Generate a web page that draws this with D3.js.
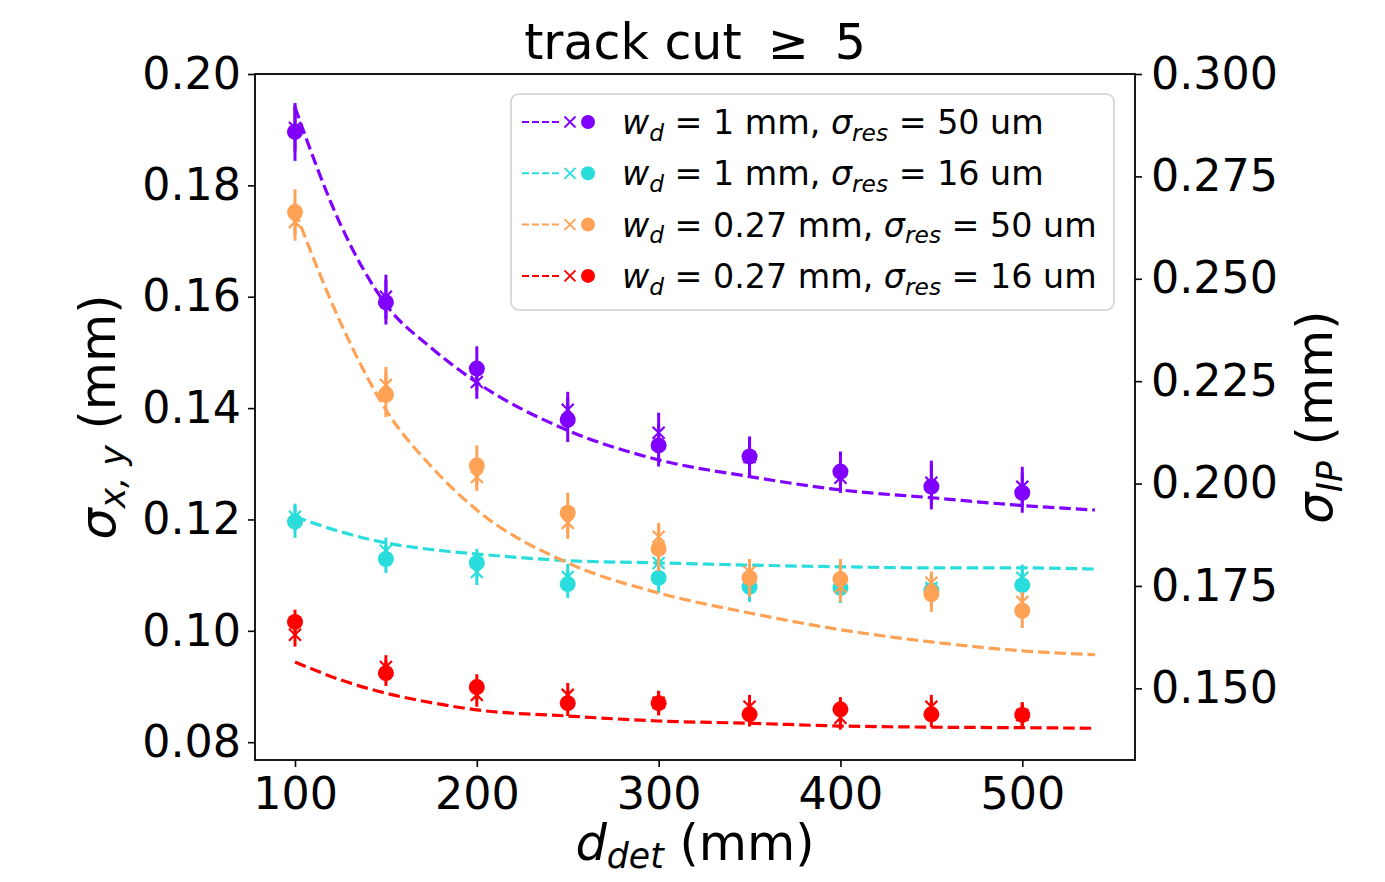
<!DOCTYPE html>
<html>
<head>
<meta charset="utf-8">
<script src="https://cdn.jsdelivr.net/npm/d3@7"></script>
<style>
  body { margin: 0; background: #fff; }
  svg text { font-family: "DejaVu Sans", sans-serif; fill: #000; }
</style>
</head>
<body>
<svg id="chart"></svg>
<script>
const dDet = [100, 150, 200, 250, 300, 350, 400, 450, 500]
const fitD = [100, 125, 150, 175, 200, 250, 300, 350, 400, 450, 500, 540]

const xTicks = [100, 200, 300, 400, 500]
const leftTicks = [0.08, 0.1, 0.12, 0.14, 0.16, 0.18, 0.2]
const rightTicks = [0.15, 0.175, 0.2, 0.225, 0.25, 0.275, 0.3]

const colors = ["#8000ff", "#2adddd", "#ffa256", "#ff0000"]
const widths = ["1", "1", "0.27", "0.27"]
const resolutions = ["50", "16", "50", "16"]

// sigma_x,y (dots, left axis)
const sxy_1mm_50um = [0.1896, 0.159, 0.1471, 0.1379, 0.1333, 0.1313, 0.1286, 0.1259, 0.1248]
const sxy_1mm_16um = [0.1196, 0.1129, 0.1122, 0.1084, 0.1095, 0.1079, 0.1077, 0.1073, 0.1082]
const sxy_027mm_50um = [0.1752, 0.1424, 0.1297, 0.1212, 0.1147, 0.1095, 0.1093, 0.1066, 0.1036]
const sxy_027mm_16um = [0.1016, 0.0924, 0.0899, 0.087, 0.087, 0.085, 0.0859, 0.085, 0.0849]

const sxyErr_1mm_50um = [0.0052, 0.004, 0.004, 0.004, 0.0038, 0.0036, 0.0036, 0.0041, 0.0036]
const sxyErr_1mm_16um = [0.0029, 0.0025, 0.0025, 0.0025, 0.0027, 0.0027, 0.0027, 0.0027, 0.0027]
const sxyErr_027mm_50um = [0.0041, 0.004, 0.0036, 0.0036, 0.004, 0.0034, 0.0036, 0.0032, 0.0031]
const sxyErr_027mm_16um = [0.0022, 0.0023, 0.0023, 0.0023, 0.0022, 0.0022, 0.0022, 0.0023, 0.0023]

// sigma_IP (crosses, right axis)
const sip_1mm_50um = [0.2868, 0.2456, 0.2248, 0.218, 0.2124, 0.2065, 0.2014, 0.2002, 0.1992]
const sip_1mm_16um = [0.1919, 0.1836, 0.1784, 0.1772, 0.1806, 0.176, 0.1753, 0.1745, 0.177]
const sip_027mm_50um = [0.2639, 0.2241, 0.2016, 0.1904, 0.187, 0.1784, 0.1748, 0.1758, 0.1711]
const sip_027mm_16um = [0.1631, 0.1552, 0.1484, 0.1484, 0.1465, 0.1455, 0.1428, 0.1455, 0.1435]

const sipErr_1mm_50um = [0.0056, 0.0054, 0.0041, 0.0044, 0.0049, 0.0049, 0.0037, 0.0054, 0.0049]
const sipErr_1mm_16um = [0.0032, 0.0032, 0.0032, 0.0032, 0.0032, 0.0032, 0.0032, 0.0032, 0.0032]
const sipErr_027mm_50um = [0.0046, 0.0044, 0.0034, 0.0039, 0.0034, 0.0032, 0.0037, 0.0027, 0.0024]
const sipErr_027mm_16um = [0.0029, 0.0029, 0.0029, 0.0029, 0.0029, 0.0029, 0.0029, 0.0029, 0.0029]

// dashed expectation curves (left axis)
const fit_1mm_50um = [0.194, 0.173, 0.1586, 0.1508, 0.1446, 0.136, 0.1307, 0.1277, 0.1253, 0.1239, 0.1225, 0.1217]
const fit_1mm_16um = [0.1205, 0.1178, 0.1158, 0.1146, 0.1138, 0.1126, 0.1122, 0.1118, 0.1115, 0.1113, 0.1113, 0.1111]
const fit_027mm_50um = [0.1754, 0.1554, 0.1397, 0.1295, 0.1217, 0.1122, 0.1068, 0.1032, 0.1002, 0.098, 0.0964, 0.0957]
const fit_027mm_16um = [0.0944, 0.0912, 0.0888, 0.0871, 0.0858, 0.0847, 0.0838, 0.0834, 0.0829, 0.0827, 0.0826, 0.0825]

const series = [
  { sxy: sxy_1mm_50um, sxyErr: sxyErr_1mm_50um, sip: sip_1mm_50um, sipErr: sipErr_1mm_50um, fit: fit_1mm_50um },
  { sxy: sxy_1mm_16um, sxyErr: sxyErr_1mm_16um, sip: sip_1mm_16um, sipErr: sipErr_1mm_16um, fit: fit_1mm_16um },
  { sxy: sxy_027mm_50um, sxyErr: sxyErr_027mm_50um, sip: sip_027mm_50um, sipErr: sipErr_027mm_50um, fit: fit_027mm_50um },
  { sxy: sxy_027mm_16um, sxyErr: sxyErr_027mm_16um, sip: sip_027mm_16um, sipErr: sipErr_027mm_16um, fit: fit_027mm_16um },
].map((s, i) => ({ ...s, color: colors[i], width: widths[i], res: resolutions[i] }))

const W = 1385
const H = 882
const plot = { left: 255, right: 1135, top: 74, bottom: 760 }
const FS = 44.4
const LABEL_FS = 49.5

const svg = d3.select("#chart").attr("width", W).attr("height", H)

const x = d3.scaleLinear().domain([78, 562]).range([plot.left, plot.right])
const yL = d3.scaleLinear().domain([0.0768, 0.2]).range([plot.bottom, plot.top])
const yR = d3.scaleLinear().domain([0.1325, 0.3]).range([plot.bottom, plot.top])

// writes a mathtext-like label: parts are [text, kind] with kind n / i / sub
const mathText = (sel, parts, size, drop = 0.2) => {
  let shifted = false
  parts.forEach(([txt, kind]) => {
    const t = sel.append("tspan").text(txt)
    if (kind === "sub") {
      t.attr("font-size", size * 0.7).attr("font-style", "italic")
      if (!shifted) t.attr("dy", size * drop)
      shifted = true
    } else {
      t.attr("font-size", size)
      if (kind === "i") t.attr("font-style", "italic")
      if (shifted) t.attr("dy", -size * drop)
      shifted = false
    }
  })
}

/*
  Data
*/
const line = d3
  .line()
  .x((d) => x(d[0]))
  .y((d) => yL(d[1]))
  .curve(d3.curveMonotoneX)

const crossPath = (r) => `M${-r},${-r}L${r},${r}M${-r},${r}L${r},${-r}`

series.forEach((s) => {
  const g = svg.append("g")

  g.append("path")
    .datum(fitD.map((d, i) => [d, s.fit[i]]))
    .attr("d", line)
    .attr("fill", "none")
    .attr("stroke", s.color)
    .attr("stroke-width", 3.2)
    .attr("stroke-dasharray", "11.5,5")

  const pts = dDet.map((d, i) => ({ d, sxy: s.sxy[i], ex: s.sxyErr[i], sip: s.sip[i], ei: s.sipErr[i] }))

  // crosses with error bars (right axis)
  g.selectAll(".ipbar")
    .data(pts)
    .enter()
    .append("line")
    .attr("x1", (p) => x(p.d))
    .attr("x2", (p) => x(p.d))
    .attr("y1", (p) => yR(p.sip - p.ei))
    .attr("y2", (p) => yR(p.sip + p.ei))
    .attr("stroke", s.color)
    .attr("stroke-width", 3)

  g.selectAll(".ipmark")
    .data(pts)
    .enter()
    .append("path")
    .attr("transform", (p) => "translate(" + x(p.d) + "," + yR(p.sip) + ")")
    .attr("d", crossPath(6))
    .attr("stroke", s.color)
    .attr("stroke-width", 2.2)
    .attr("fill", "none")

  // dots with error bars (left axis)
  g.selectAll(".xybar")
    .data(pts)
    .enter()
    .append("line")
    .attr("x1", (p) => x(p.d))
    .attr("x2", (p) => x(p.d))
    .attr("y1", (p) => yL(p.sxy - p.ex))
    .attr("y2", (p) => yL(p.sxy + p.ex))
    .attr("stroke", s.color)
    .attr("stroke-width", 3)

  g.selectAll(".xymark")
    .data(pts)
    .enter()
    .append("circle")
    .attr("cx", (p) => x(p.d))
    .attr("cy", (p) => yL(p.sxy))
    .attr("r", 8)
    .attr("fill", s.color)
})

/*
  Axes
*/
const styleAxis = (g) => {
  g.selectAll("text").attr("font-size", FS).attr("fill", "#000")
  g.selectAll("line").attr("stroke", "#000").attr("stroke-width", 1.6)
  g.select(".domain").remove()
}

svg
  .append("g")
  .attr("transform", "translate(0," + plot.bottom + ")")
  .call(d3.axisBottom(x).tickValues(xTicks).tickSize(7).tickPadding(10).tickFormat(d3.format("d")))
  .call(styleAxis)

svg
  .append("g")
  .attr("transform", "translate(" + plot.left + ",0)")
  .call(d3.axisLeft(yL).tickValues(leftTicks).tickSize(7).tickPadding(7).tickFormat(d3.format(".2f")))
  .call(styleAxis)

svg
  .append("g")
  .attr("transform", "translate(" + plot.right + ",0)")
  .call(d3.axisRight(yR).tickValues(rightTicks).tickSize(7).tickPadding(9).tickFormat(d3.format(".3f")))
  .call(styleAxis)

svg
  .append("rect")
  .attr("x", plot.left)
  .attr("y", plot.top)
  .attr("width", plot.right - plot.left)
  .attr("height", plot.bottom - plot.top)
  .attr("fill", "none")
  .attr("stroke", "#000")
  .attr("stroke-width", 1.8)

/*
  Labels
*/
const title = svg.append("text").attr("x", (plot.left + plot.right) / 2).attr("y", 59).attr("text-anchor", "middle")
title.append("tspan").attr("font-size", 49).text("track cut")
title.append("tspan").attr("font-size", 49).attr("dx", 26).text("≥")
title.append("tspan").attr("font-size", 49).attr("dx", 26).text("5")

const xl = svg.append("text").attr("x", (plot.left + plot.right) / 2).attr("y", 860).attr("text-anchor", "middle")
mathText(xl, [["d", "i"], ["det", "sub"], [" (mm)", "n"]], LABEL_FS, 0.16)

const yl = svg
  .append("text")
  .attr("transform", "translate(115," + (plot.top + plot.bottom) / 2 + ") rotate(-90)")
  .attr("text-anchor", "middle")
mathText(yl, [["σ", "i"], ["x, y", "sub"], [" (mm)", "n"]], LABEL_FS)

const yr = svg
  .append("text")
  .attr("transform", "translate(1332," + (plot.top + plot.bottom) / 2 + ") rotate(-90)")
  .attr("text-anchor", "middle")
mathText(yr, [["σ", "i"], ["IP", "sub"], [" (mm)", "n"]], LABEL_FS)

/*
  Legend
*/
const LFS = 33.3
const legend = svg.append("g")
legend
  .append("rect")
  .attr("x", 511)
  .attr("y", 94)
  .attr("width", 603)
  .attr("height", 216)
  .attr("rx", 8)
  .attr("fill", "#fff")
  .attr("fill-opacity", 0.8)
  .attr("stroke", "#d0d0d0")
  .attr("stroke-width", 1.5)

series.forEach((s, i) => {
  const cy = 122 + i * 51.3
  const row = legend.append("g").attr("transform", "translate(0," + cy + ")")
  row
    .append("line")
    .attr("x1", 522)
    .attr("x2", 561)
    .attr("stroke", s.color)
    .attr("stroke-width", 2)
    .attr("stroke-dasharray", "7,3")
  row
    .append("path")
    .attr("transform", "translate(570,0)")
    .attr("d", crossPath(5.5))
    .attr("stroke", s.color)
    .attr("stroke-width", 1.8)
    .attr("fill", "none")
  row.append("circle").attr("cx", 588).attr("cy", 0).attr("r", 7).attr("fill", s.color)
  const t = row.append("text").attr("x", 622).attr("y", 12)
  mathText(
    t,
    [
      ["w", "i"],
      ["d", "sub"],
      [" = " + s.width + " mm, ", "n"],
      ["σ", "i"],
      ["res", "sub"],
      [" = " + s.res + " um", "n"],
    ],
    LFS
  )
})
</script>
</body>
</html>
